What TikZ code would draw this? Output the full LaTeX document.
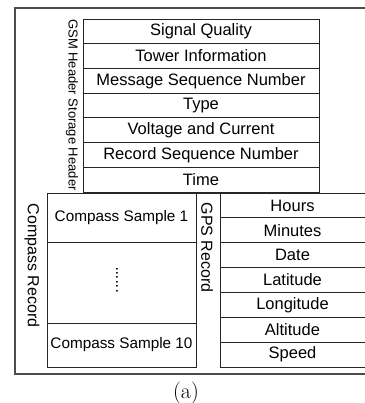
\documentclass[tikz,border=0pt]{standalone}
\usepackage{fontspec}
\newfontfamily\arialfont{Liberation Sans}
\usetikzlibrary{positioning}
\tikzset{
  cell/.style={draw=black!85, line width=0.8pt, inner sep=0pt, outer sep=0pt,
    font=\arialfont\fontsize{16.5}{18}\selectfont},
  gsmrow/.style={cell, minimum width=236pt, minimum height=24.71pt},
  gpsrow/.style={cell, minimum width=145pt, minimum height=24.86pt},
  cmprow/.style={cell, minimum width=149pt, font=\arialfont\fontsize{15.3}{17}\selectfont},
  sidelbl/.style={rotate=-90, inner sep=0pt, font=\arialfont\fontsize{16}{18}\selectfont},
}

\begin{document}
\begin{tikzpicture}[x=1pt, y=-1pt]
  \useasboundingbox (0,0) rectangle (364,403);
  \draw[gray!60!black, line width=1.5pt] (15,8) rectangle (367,374); % outer frame

  % GSM header storage header
  \node[gsmrow] (sigq) at (201,31.36) {Signal Quality};
  \node[gsmrow, below=0pt of sigq] (tower) {Tower Information};
  \node[gsmrow, below=0pt of tower] (msgseq) {Message Sequence Number};
  \node[gsmrow, below=0pt of msgseq] (type) {Type};
  \node[gsmrow, below=0pt of type] (volt) {Voltage and Current};
  \node[gsmrow, below=0pt of volt] (recseq) {Record Sequence Number};
  \node[gsmrow, below=0pt of recseq] (time) {Time};
  \node[sidelbl, font=\arialfont\fontsize{13}{15}\selectfont] (gsmlbl) at (72,105) {GSM Header Storage Header};

  % compass record
  \node[cmprow, minimum height=49pt] (cs1) at (121.5,217.5) {Compass Sample 1};
  \node[cmprow, minimum height=81pt, below=0pt of cs1] (csdots) {};
  \node[cmprow, minimum height=44pt, below=0pt of csdots] (cs10) {Compass Sample 10};
  \node[sidelbl, rotate=180, font=\arialfont\fontsize{16}{18}\selectfont] (dots) at (117,280) {......};
  \node[sidelbl] (cmplbl) at (32,265.5) {Compass Record};

  % GPS record
  \node[gpsrow] (hours) at (292.5,205.43) {Hours};
  \node[gpsrow, below=0pt of hours] (minutes) {Minutes};
  \node[gpsrow, below=0pt of minutes] (date) {Date};
  \node[gpsrow, below=0pt of date] (lat) {Latitude};
  \node[gpsrow, below=0pt of lat] (lon) {Longitude};
  \node[gpsrow, below=0pt of lon] (alt) {Altitude};
  \node[gpsrow, below=0pt of alt] (speed) {Speed};
  \node[sidelbl] (gpslbl) at (207,247.5) {GPS Record};
  \draw[black!85, line width=0.8pt] (cs1.north east) -- (hours.north west);

  \node[font=\fontsize{22}{24}\selectfont] (cap) at (186,393.5) {(a)};
\end{tikzpicture}
\end{document}
